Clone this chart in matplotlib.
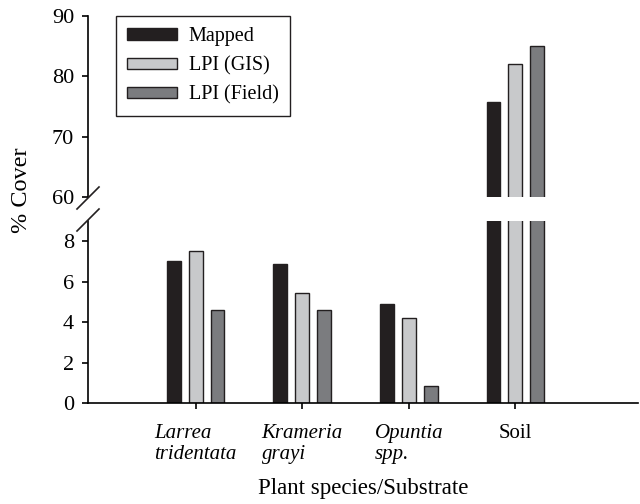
import matplotlib
matplotlib.use('Agg')
import matplotlib.pyplot as plt
import numpy as np

# data
categories = ['Larrea\ntridentata', 'Krameria\ngrayi', 'Opuntia\nspp.', 'Soil']
italic = [True, True, True, False]
series = ['Mapped', 'LPI (GIS)', 'LPI (Field)']
mapped = [7.0, 6.85, 4.88, 75.8]
lpi_gis = [7.5, 5.43, 4.19, 82.1]
lpi_field = [4.58, 4.58, 0.84, 85.0]
colors = ['#231f20', '#c8c9cb', '#7b7c7f']

plt.rcParams['font.family'] = ['Liberation Serif', 'DejaVu Serif']
plt.rcParams['font.size'] = 16

fig = plt.figure(figsize=(6.4, 5.04), dpi=100)
left, right = 88 / 640, 638 / 640
ax_top = fig.add_axes([left, 1 - 197 / 504, right - left, (197 - 16) / 504])
ax_bot = fig.add_axes([left, 1 - 403 / 504, right - left, (403 - 221) / 504])

x = np.arange(1, len(categories) + 1)
offs = [-0.205, 0.0, 0.205]
width = 0.13
values = [mapped, lpi_gis, lpi_field]

for ax in (ax_top, ax_bot):
    for i, vals in enumerate(values):
        ax.bar(x + offs[i], vals, width, color=colors[i], edgecolor='#231f20',
               linewidth=1.0, label=series[i])
    ax.set_xlim(-0.01, 5.15)
    for s in ['top', 'right']:
        ax.spines[s].set_visible(False)
    ax.spines['left'].set_linewidth(1.2)
    ax.spines['bottom'].set_linewidth(1.2)
    ax.tick_params(axis='y', direction='out', length=4, width=1.2, pad=6,
                   labelsize=16)

ax_top.set_ylim(60, 90)
ax_top.set_yticks([60, 70, 80, 90])
ax_top.spines['bottom'].set_visible(False)
ax_top.set_xticks([])

ax_bot.set_ylim(0, 9)
ax_bot.set_yticks([0, 2, 4, 6, 8])
ax_bot.set_xticks(x)
ax_bot.set_xticklabels(categories, multialignment='left', fontsize=15,
                       linespacing=1.15)
for lab, it in zip(ax_bot.get_xticklabels(), italic):
    if it:
        lab.set_style('italic')
ax_bot.tick_params(axis='x', direction='out', length=4, width=1.2, pad=11)
ax_bot.set_xlabel('Plant species/Substrate', fontsize=16.5, labelpad=10)

# break marks on the left spine
d = 11 / 640
dy = 11 / 504
for yb in (1 - 198 / 504, 1 - 220 / 504):
    fig.add_artist(plt.Line2D([left - d, left + d], [yb - dy, yb + dy],
                              color='#231f20', linewidth=1.2))

fig.text(0.034, 0.623, '% Cover', rotation=90, ha='center', va='center',
         fontsize=17.5)

leg = ax_top.legend(loc='upper left', bbox_to_anchor=(0.051, 1.0), borderaxespad=0,
                    fancybox=False, edgecolor='#231f20', framealpha=1,
                    handlelength=2.5, handleheight=0.5, handletextpad=0.55,
                    labelspacing=0.5, borderpad=0.55, fontsize=14.5)
leg.get_frame().set_linewidth(1.0)

fig.savefig('out.png', dpi=100)
